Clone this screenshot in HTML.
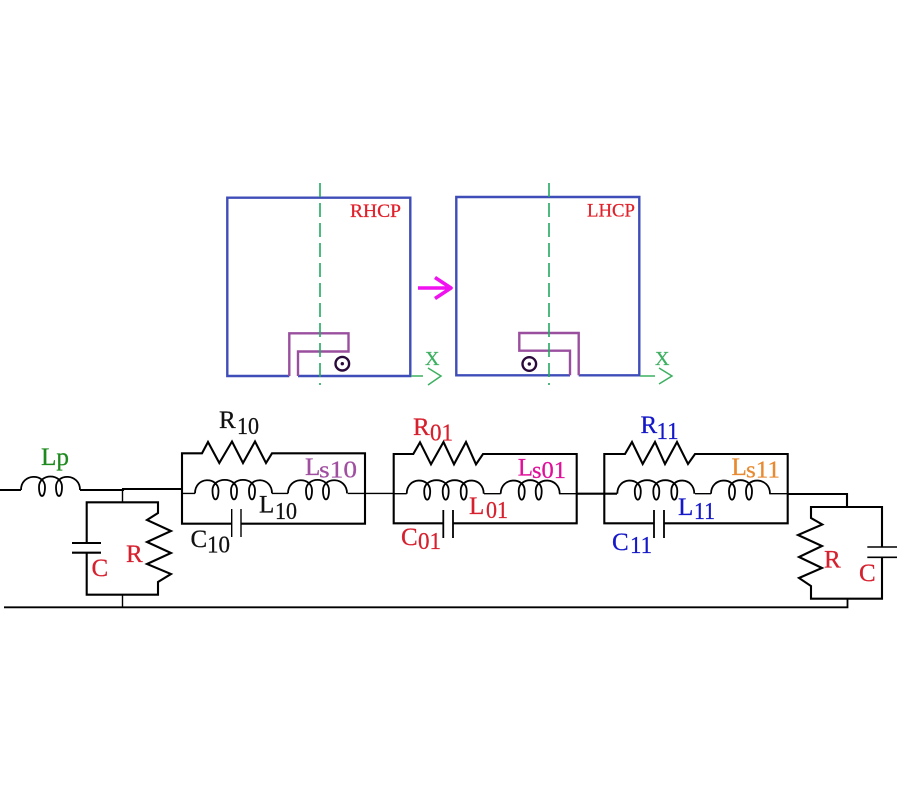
<!DOCTYPE html>
<html>
<head>
<meta charset="utf-8">
<style>
html,body{margin:0;padding:0;background:#fff;}
svg{display:block;}
text{font-family:"Liberation Serif",serif;stroke-width:0.25px;paint-order:stroke;}
.w{fill:none;stroke:#000;stroke-width:2.1;}
.t{fill:none;stroke:#000;stroke-width:1.4;}
.i{fill:none;stroke:#000;stroke-width:1.8;}
.b{font-size:25px;}
.s{font-size:24px;}
</style>
</head>
<body>
<svg width="900" height="800" viewBox="0 0 900 800" xmlns="http://www.w3.org/2000/svg">
<defs>
<path id="ind3" class="i" d="M0,0 C0,-17 23,-17 23.5,-3 C23.5,9 17.5,9 17.5,-3 C17.5,-17 42,-17 42,-3 C42,9 36,9 36,-3 C36,-17 60,-17 60,-3 C60,9 54,9 54,-3 C54,-17 77,-17 77,0"/>
<path id="ind2" class="i" d="M0,0 C0,-17 24,-17 24,-3 C24,9 18,9 18,-3 C18,-17 41,-17 41,-3 C41,9 35,9 35,-3 C35,-17 59,-17 59,0"/>
</defs>

<!-- RHCP antenna -->
<path d="M289.3,376 H227.3 V197.7 H410.3 V376 H298" fill="none" stroke="#3f4db8" stroke-width="2.4"/>
<path d="M289.3,376 V333.3 H348.5 V351.5 H298 V376" fill="none" stroke="#9a4f9e" stroke-width="2.4"/>
<line x1="320" y1="183" x2="320" y2="385" stroke="#22a860" stroke-width="1.6" stroke-dasharray="14,6"/>
<circle cx="342.3" cy="363.7" r="6.8" fill="none" stroke="#2a0a3a" stroke-width="2.4"/>
<circle cx="342.3" cy="363.7" r="1.7" fill="#2a0a3a"/>
<text x="350" y="217" font-size="19" fill="#e0202a" stroke="#e0202a" textLength="51" lengthAdjust="spacingAndGlyphs">RHCP</text>
<text x="425" y="365" font-size="20" fill="#3cb060" stroke="#3cb060">X</text>
<path d="M411,376 H423 M428,368 L441,376 L428,385" fill="none" stroke="#3cb060" stroke-width="1.5"/>

<!-- Arrow -->
<path d="M418,288 H450 M435,277.5 L451,288 L435,298.5" fill="none" stroke="#f010f0" stroke-width="3.6" stroke-linejoin="round"/>

<!-- LHCP antenna -->
<path d="M570,375.3 H456.3 V197 H639.3 V375.3 H578.7" fill="none" stroke="#3f4db8" stroke-width="2.4"/>
<path d="M578.7,375.3 V333 H519.3 V350.7 H570 V375.3" fill="none" stroke="#9a4f9e" stroke-width="2.4"/>
<line x1="549" y1="183" x2="549" y2="385" stroke="#22a860" stroke-width="1.6" stroke-dasharray="14,6"/>
<circle cx="529.3" cy="364" r="6.8" fill="none" stroke="#2a0a3a" stroke-width="2.4"/>
<circle cx="529.3" cy="364" r="1.7" fill="#2a0a3a"/>
<text x="587" y="216.7" font-size="19" fill="#e0202a" stroke="#e0202a" textLength="48" lengthAdjust="spacingAndGlyphs">LHCP</text>
<text x="655" y="365" font-size="20" fill="#3cb060" stroke="#3cb060">X</text>
<path d="M640,376 H655 M659,368 L672,376 L659,384" fill="none" stroke="#3cb060" stroke-width="1.5"/>

<!-- Left network -->
<path class="w" d="M0,490 H21 M80,490 H123 V489 H182"/>
<use href="#ind2" x="21" y="490"/>
<path class="t" d="M122.5,489 V502 M122.5,595 V607"/>
<path class="w" d="M86.7,543 V502.3 H158 V513 L147,520 L171,531 L147,542 L171,553 L147,564 L171,574 L158,582 V594.7 H86.7 V552.7"/>
<path class="w" d="M72,543 H101 M72,552.7 H101"/>
<path d="M4,607.3 H847.5 V598.7" fill="none" stroke="#000" stroke-width="1.8"/>

<!-- Box 10 -->
<path class="w" d="M231.7,523.7 H182 V453.3 H202 L208,442 L219.3,463 L232,441.5 L243,463 L255,441.5 L266,463 L272,453.3 H365 V523.7 H241"/>
<path class="t" d="M175,489 H182 M182,493.4 H195 M272,493.4 H288 M347.7,493.4 H394"/>
<use href="#ind3" x="195" y="493.4"/>
<use href="#ind2" x="288" y="493.4"/>
<path class="t" d="M231.7,509 V537 M241,509 V537"/>

<!-- Box 01 -->
<path class="w" d="M443.3,523.3 H393.7 V454 H413.3 L420,442.3 L431,464.3 L443.5,442 L454,464.3 L466,442 L476,464.3 L483,454 H576.7 V523.3 H453"/>
<path class="t" d="M393.7,493.7 H406.7 M484,493.7 H500.7 M559,493.7 H577"/>
<use href="#ind3" x="406.7" y="493.7"/>
<use href="#ind2" x="500.7" y="493.7"/>
<path class="w" d="M443.3,510 V538 M453,510 V538" style="stroke-width:1.8"/>
<path class="w" d="M577,493.7 H617"/>

<!-- Box 11 -->
<path class="w" d="M654,523.3 H604.3 V454 H625 L632,442 L642.7,464 L655,442 L665,464 L677,442 L688,464 L695,454 H787.7 V523.3 H664"/>
<path class="t" d="M695,493.7 H711 M769.3,493.7 H787"/>
<use href="#ind3" x="617.3" y="493.7"/>
<use href="#ind2" x="711" y="493.7"/>
<path class="w" d="M654,510 V538 M664,510 V538" style="stroke-width:1.8"/>

<!-- Right network -->
<path class="w" d="M787,494 H847 V507"/>
<path class="w" d="M882,547 V507 H811 V518 L822.3,524.5 L798,535 L822,546 L799,557 L822,568 L799,578 L811,586 V598.7 H882 V557.3"/>
<path class="w" d="M867.3,547 H897 M867.3,557.3 H897" style="stroke-width:1.6"/>

<!-- Labels -->
<g fill="#1e8a1e" stroke="#1e8a1e"><text x="41" y="465" class="b" textLength="28" lengthAdjust="spacingAndGlyphs">Lp</text></g>
<g fill="#d6202e" stroke="#d6202e">
<text x="126" y="562" class="b">R</text>
<text x="91.5" y="576" class="b">C</text>
<text x="824" y="567.7" class="b">R</text>
<text x="859" y="581" class="b">C</text>
</g>

<g fill="#111" stroke="#111">
<text x="219" y="428" class="b">R</text>
<text x="237" y="434" class="s" textLength="22" lengthAdjust="spacingAndGlyphs">10</text>
<text x="259" y="512.7" class="b">L</text>
<text x="275" y="519" class="s" textLength="22" lengthAdjust="spacingAndGlyphs">10</text>
<text x="190.5" y="547" class="b">C</text>
<text x="207" y="552.7" class="s" textLength="23" lengthAdjust="spacingAndGlyphs">10</text>
</g>
<g fill="#a04fa0" stroke="#a04fa0">
<text x="305" y="475" class="b">L</text>
<text x="319" y="477.5" class="s" textLength="38" lengthAdjust="spacingAndGlyphs">s10</text>
</g>

<g fill="#d6202e" stroke="#d6202e">
<text x="413" y="435" class="b">R</text>
<text x="430" y="440.7" class="s" textLength="23" lengthAdjust="spacingAndGlyphs">01</text>
<text x="469" y="514" class="b">L</text>
<text x="486" y="518" class="s" textLength="22" lengthAdjust="spacingAndGlyphs">01</text>
<text x="401" y="545" class="b">C</text>
<text x="418" y="549" class="s" textLength="23" lengthAdjust="spacingAndGlyphs">01</text>
</g>
<g fill="#e0109a" stroke="#e0109a">
<text x="517.7" y="475.7" class="b">L</text>
<text x="532" y="478" class="s" textLength="34" lengthAdjust="spacingAndGlyphs">s01</text>
</g>

<g fill="#1418c8" stroke="#1418c8">
<text x="640.5" y="433" class="b">R</text>
<text x="656.5" y="439" class="s" textLength="22" lengthAdjust="spacingAndGlyphs">11</text>
<text x="678" y="515" class="b">L</text>
<text x="694" y="519" class="s" textLength="21" lengthAdjust="spacingAndGlyphs">11</text>
<text x="612" y="550" class="b">C</text>
<text x="630" y="553" class="s" textLength="22" lengthAdjust="spacingAndGlyphs">11</text>
</g>
<g fill="#e88a30" stroke="#e88a30">
<text x="731.5" y="475" class="b">L</text>
<text x="746" y="477.5" class="s" textLength="34" lengthAdjust="spacingAndGlyphs">s11</text>
</g>
</svg>
</body>
</html>
